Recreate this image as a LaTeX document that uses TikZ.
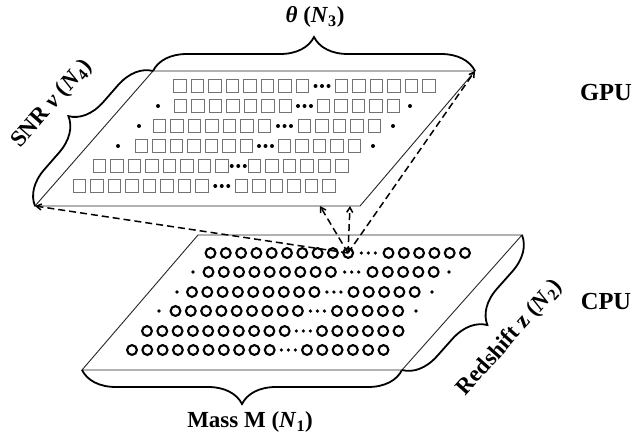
\documentclass[tikz,border=0pt]{standalone}
\usepackage{fontspec}
\setmainfont{Liberation Serif}
\usetikzlibrary{decorations.pathreplacing,arrows.meta}

\tikzset{
  plate/.style={line width=0.9pt, black!85},
  curly/.style={decorate, decoration={brace, amplitude=34pt}, line width=1.8pt},
  cell/.style={black!55, line width=0.9pt},
  ring/.style={line width=2.1pt},
  feed/.style={line width=1.5pt, dash pattern=on 7pt off 4pt, -{Straight Barb[length=5pt,width=6pt]}},
  lbl/.style={font=\fontsize{23}{27}\selectfont\bfseries, inner sep=0pt},
}

% one row of squares: y, left dot, first x, count, first x right, count, right dot
\newcommand{\cellrow}[7]{%
  \foreach \k in {1,...,#4}
    \draw[cell] ({#3+(\k-1)*17.5-6.4},{#1-6.2}) rectangle ++(12.8,12.4);
  \foreach \k in {1,...,#6}
    \draw[cell] ({#5+(\k-1)*17.5-6.4},{#1-6.2}) rectangle ++(12.8,12.4);
  \foreach \j in {-1,0,1}
    \fill ({(#3+(#4-1)*17.5+#5)/2+\j*6.5},#1) circle (2pt);
  \ifdim #2pt>0pt \fill (#2,#1) circle (2pt); \fi
  \ifdim #7pt>0pt \fill (#7,#1) circle (2pt); \fi
}

% one row of rings: same arguments
\newcommand{\ringrow}[7]{%
  \foreach \k in {1,...,#4}
    \draw[ring] ({#3+(\k-1)*15.3},#1) circle (4.9pt);
  \foreach \k in {1,...,#6}
    \draw[ring] ({#5+(\k-1)*15.3},#1) circle (4.9pt);
  \foreach \j in {-1,0,1}
    \fill ({(#3+(#4-1)*15.3+#5)/2+\j*7},#1) circle (1.8pt);
  \ifdim #2pt>0pt \fill (#2,#1) circle (1.9pt); \fi
  \ifdim #7pt>0pt \fill (#7,#1) circle (1.9pt); \fi
}

\begin{document}
\begin{tikzpicture}[x=1pt,y=-1pt]
  \useasboundingbox[fill=white] (0,0) rectangle (638,437);

  % corners of the two plates
  \coordinate (gTL) at (153,71);
  \coordinate (gTR) at (475,71);
  \coordinate (gBR) at (360,206);
  \coordinate (gBL) at (35,206);
  \coordinate (cTL) at (198,235);
  \coordinate (cTR) at (522,235);
  \coordinate (cBR) at (402,370);
  \coordinate (cBL) at (82,370);

  % draw plates
  \draw[plate] (gTL) -- (gTR) -- (gBR) -- (gBL) -- cycle;
  \draw[plate] (cTL) -- (cTR) -- (cBR) -- (cBL) -- cycle;

  % GPU grid
  \cellrow{86}{0}{180}{8}{341.5}{6}{0}
  \cellrow{106}{158}{180.5}{7}{323.5}{5}{410}
  \cellrow{126}{139}{159.5}{7}{304.5}{5}{393}
  \cellrow{146}{118}{141.5}{7}{284.5}{5}{373}
  \cellrow{166}{0}{99.5}{8}{254.5}{6}{0}
  \cellrow{186}{0}{79.5}{8}{241.5}{6}{0}

  % CPU grid
  \ringrow{253}{0}{210.5}{10}{388.5}{6}{0}
  \ringrow{272}{193}{208.5}{9}{372.5}{5}{449}
  \ringrow{292}{177}{192}{9}{353.5}{5}{432}
  \ringrow{311}{159}{175.5}{9}{337}{5}{416}
  \ringrow{331}{0}{147}{10}{322}{6}{0}
  \ringrow{350}{0}{132}{10}{307}{6}{0}

  % braces
  \draw[curly] (gTL) -- (gTR);
  \draw[curly] (gBL) -- (gTL);
  \draw[curly] (cBR) -- (cBL);
  \draw[curly] (cTR) -- (cBR);

  \node[lbl] (theta) at (315,17) {\textit{θ} (\textit{N}\textsubscript{3})};
  \node[lbl, rotate=48.8] (snr) at (52,104) {SNR \textit{ν} (\textit{N}\textsubscript{4})};
  \node[lbl] (mass) at (250,422) {Mass M (\textit{N}\textsubscript{1})};
  \node[lbl, rotate=48.4] (zlab) at (510,338) {Redshift z (\textit{N}\textsubscript{2})};

  \node[lbl, font=\fontsize{24.5}{28}\selectfont\bfseries] (gpu) at (606,93) {GPU};
  \node[lbl, font=\fontsize{24.5}{28}\selectfont\bfseries] (cpu) at (606,302) {CPU};

  % dashed links from one CPU ring
  \coordinate (src) at (348,253);
  \coordinate (gA) at (320,206);
  \coordinate (gB) at (350,206);
  \draw[feed] (src) -- (gBL);
  \draw[feed] (src) -- (gA);
  \draw[feed] (src) -- (gB);
  \draw[feed] (src) -- (gTR);
\end{tikzpicture}
\end{document}
